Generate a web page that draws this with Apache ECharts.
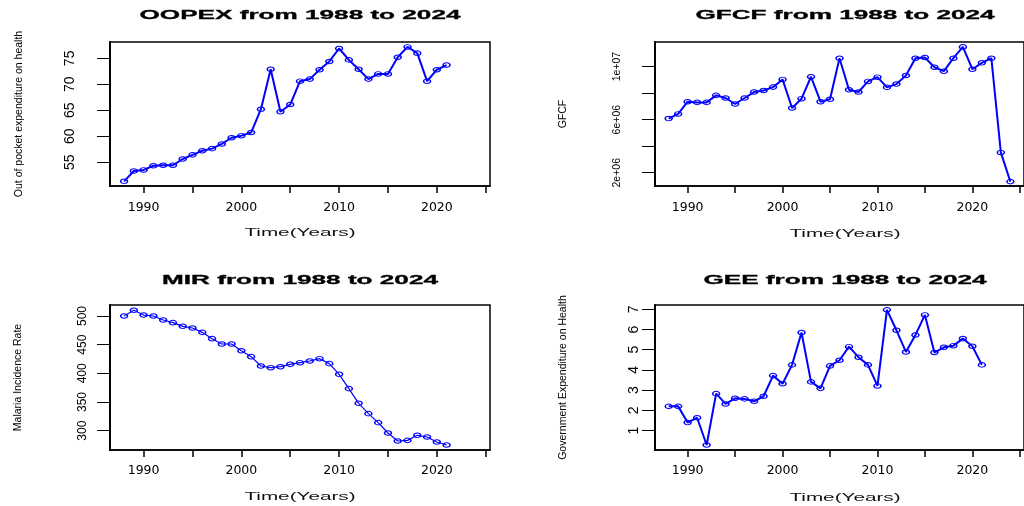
<!DOCTYPE html>
<html><head><meta charset="utf-8">
<script src="https://cdn.jsdelivr.net/npm/echarts@6/dist/echarts.min.js"></script>
<style>html,body{margin:0;padding:0;background:#fff}#c{width:1024px;height:506px}</style>
</head><body><div id="c"></div>
<script>
// ---- data ----
const years = [1988,1989,1990,1991,1992,1993,1994,1995,1996,1997,1998,1999,2000,2001,2002,2003,2004,2005,2006,2007,2008,2009,2010,2011,2012,2013,2014,2015,2016,2017,2018,2019,2020,2021];
const gfcfYears = [1988,1989,1990,1991,1992,1993,1994,1995,1996,1997,1998,1999,2000,2001,2002,2003,2004,2005,2006,2007,2008,2009,2010,2011,2012,2013,2014,2015,2016,2017,2018,2019,2020,2021,2022,2023,2024];
const oopex = [51.3,53.3,53.5,54.3,54.4,54.4,55.6,56.4,57.2,57.6,58.5,59.7,60.1,60.7,65.2,72.9,64.7,66.1,70.6,71.0,72.8,74.4,76.9,74.7,72.9,71.0,72.0,72.0,75.2,77.2,76.0,70.6,72.8,73.7];
const gfcf = [6080000,6430000,7350000,7300000,7300000,7830000,7630000,7180000,7630000,8080000,8200000,8450000,9030000,6880000,7580000,9230000,7350000,7530000,10630000,8250000,8080000,8880000,9200000,8430000,8680000,9330000,10630000,10680000,9950000,9650000,10630000,11480000,9800000,10280000,10630000,3530000,1330000];
const mir = [500,509.9,501.7,500,493,488.4,482,479.1,471.5,460.5,451.2,451.2,439.5,429.1,412.8,409.9,411.6,415.7,418.6,421.5,425.6,416.9,398.3,373.3,347.7,329.7,314,296,282,283.1,291.9,289,280.2,275];
const gee = [2.2,2.2,1.4,1.64,0.29,2.83,2.32,2.6,2.57,2.45,2.7,3.72,3.32,4.25,5.85,3.41,3.09,4.2,4.48,5.15,4.63,4.25,3.21,6.97,5.96,4.89,5.73,6.72,4.86,5.12,5.2,5.55,5.17,4.25];
const xTicks = [1990,1995,2000,2005,2010,2015,2020,2025];
const xLabels = [1990,2000,2010,2020];
const oopexTicks = [55,60,65,70,75];
const gfcfTicks = [2000000,4000000,6000000,8000000,10000000];
const gfcfLabelValues = [2000000,6000000,10000000];
const gfcfLabelText = ['2e+06','6e+06','1e+07'];
const mirTicks = [300,350,400,450,500];
const geeTicks = [1,2,3,4,5,6,7];
const titles = ['OOPEX from 1988 to 2024','GFCF from 1988 to 2024','MIR from 1988 to 2024','GEE from 1988 to 2024'];
const yNames = ['Out of pocket expenditure on health','GFCF','Malaria Incidence Rate','Government Expenditure on Health'];
const xName = 'Time(Years)';

// ---- layout ----
const panels = [
  {grid:{left:110,top:42,width:380,height:144}, ymin:50.4, ymax:78.15, ticks:oopexTicks, labelVals:oopexTicks, fmt:v=>String(v), lsize:14, lmargin:33, xm:15.5, x:years, y:oopex, lw:2, gap:85, t:[300,15.7], xn:[300,233.3]},
  {grid:{left:655,top:42,width:380,height:144}, ymin:1000000, ymax:11850000, ticks:gfcfTicks, labelVals:gfcfLabelValues, fmt:v=>gfcfLabelText[gfcfLabelValues.indexOf(v)], lsize:10.5, lmargin:32, xm:15.5, x:gfcfYears, y:gfcf, lw:2, gap:86, t:[845,15.7], xn:[845,234]},
  {grid:{left:110,top:305,width:380,height:145}, ymin:266.3, ymax:519.2, ticks:mirTicks, labelVals:mirTicks, fmt:v=>String(v), lsize:12, lmargin:21, xm:14, x:years, y:mir, lw:1.2, gap:86.5, t:[300,280.3], xn:[300,497]},
  {grid:{left:655,top:305,width:380,height:145}, ymin:0.044, ymax:7.21, ticks:geeTicks, labelVals:geeTicks, fmt:v=>String(v), lsize:14, lmargin:14, xm:14, x:years, y:gee, lw:2, gap:86, t:[845,281], xn:[845,497.5]}
];
const ellipse = 'path://M0,50 A50,50 0 1 1 100,50 A50,50 0 1 1 0,50 Z';
const blue = '#0000ff';

const option = {
  animation:false,
  backgroundColor:'#ffffff',
  grid: panels.map(p => Object.assign({show:true, borderColor:'#000', borderWidth:1.5, backgroundColor:'transparent'}, p.grid)),
  xAxis: panels.map((p,i) => ({
    gridIndex:i, type:'value', min:1986.56, max:2025.44,
    splitLine:{show:false},
    axisLine:{show:true, onZero:false, lineStyle:{color:'#000', width:1.5}},
    axisTick:{show:true, length:7, lineStyle:{color:'#000', width:1.5}, customValues:xTicks},
    axisLabel:{customValues:xLabels, fontSize:12.5, fontFamily:'DejaVu Sans', color:'#000', margin:p.xm, formatter:v=>String(v)}
  })),
  yAxis: panels.map((p,i) => ({
    gridIndex:i, type:'value', min:p.ymin, max:p.ymax,
    splitLine:{show:false},
    axisLine:{show:true, onZero:false, lineStyle:{color:'#000', width:2}},
    axisTick:{show:true, length:13, lineStyle:{color:'#000', width:1}, customValues:p.ticks},
    axisLabel:{customValues:p.labelVals, rotate:90, fontSize:p.lsize, fontFamily:'Liberation Sans', color:'#000', margin:p.lmargin, formatter:p.fmt},
    name:yNames[i], nameLocation:'middle', nameRotate:90, nameGap:p.gap,
    nameTextStyle:{fontSize:10.5, fontFamily:'Liberation Sans', color:'#000'}
  })),
  series: panels.map((p,i) => ({
    type:'line', xAxisIndex:i, yAxisIndex:i,
    data: p.x.map((yr,k) => [yr, p.y[k]]),
    symbol: ellipse, symbolSize:[7,4.6], symbolKeepAspect:false, showAllSymbol:true,
    lineStyle:{color:blue, width:p.lw},
    itemStyle:{color:'rgba(0,0,0,0)', borderColor:blue, borderWidth:1.2},
    silent:true, clip:false
  })),
  graphic: panels.flatMap((p,i) => [
    {type:'text', x:p.t[0], y:p.t[1], scaleX:2.09, silent:true,
     style:{text:titles[i], fontSize:12.5, fontWeight:'bold', fontFamily:'Liberation Sans', fill:'#000', stroke:'#000', lineWidth:0.3, align:'center', verticalAlign:'middle', textAlign:'center', textVerticalAlign:'middle'}},
    {type:'text', x:p.xn[0], y:p.xn[1], scaleX:1.8, silent:true,
     style:{text:xName, fontSize:11.5, fontFamily:'Liberation Sans', fill:'#111', align:'center', verticalAlign:'middle', textAlign:'center', textVerticalAlign:'middle'}}
  ])
};
const chart = echarts.init(document.getElementById('c'), null, {renderer:'canvas'});
chart.setOption(option);
</script></body></html>
